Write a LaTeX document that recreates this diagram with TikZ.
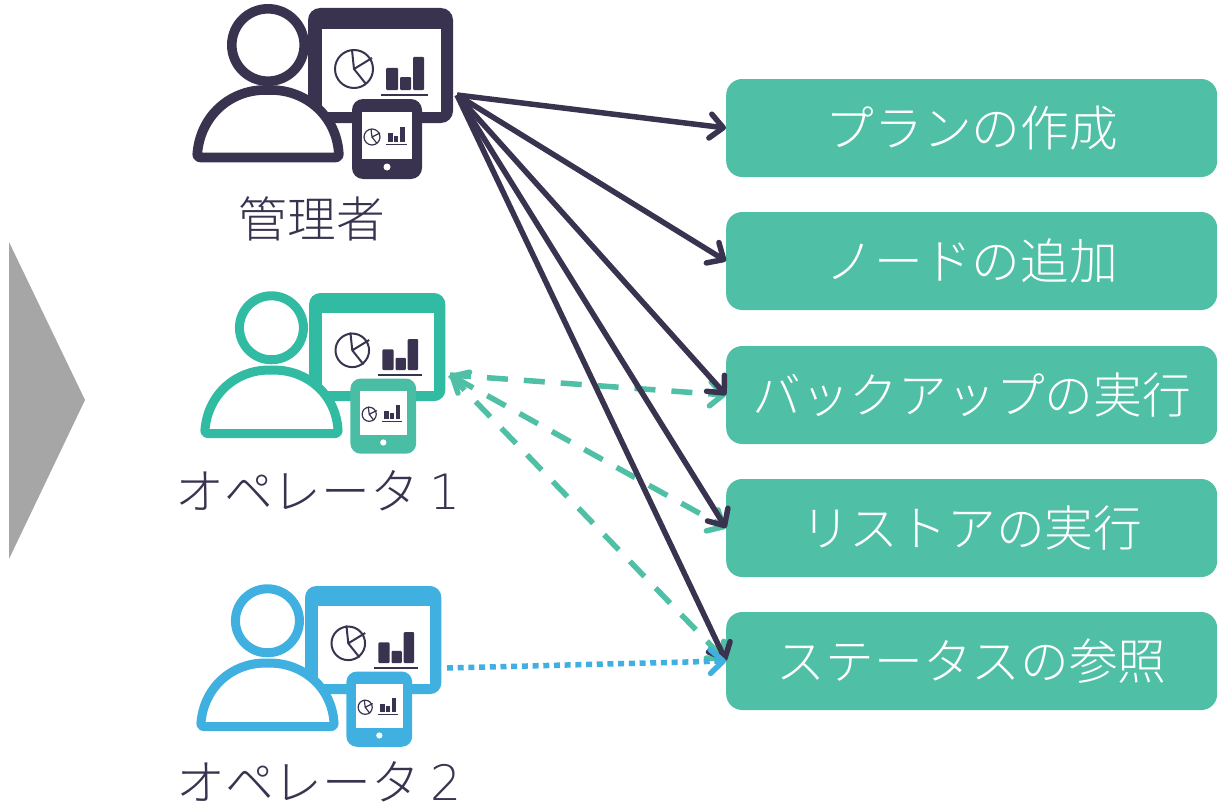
\documentclass[tikz,border=0pt]{standalone}
\usepackage{fontspec}
\usetikzlibrary{arrows.meta}
\setmainfont{Noto Sans CJK JP Light}
\newfontfamily\latinfont{DejaVu Sans ExtraLight}
\definecolor{ink}{HTML}{3A3350}
\definecolor{boxgreen}{HTML}{4FBFA5}
\definecolor{opgreen}{HTML}{30BBA2}
\definecolor{opblue}{HTML}{40B0E0}
\definecolor{chev}{HTML}{A6A6A6}
\tikzset{
  x=1pt,y=-1pt,
  action/.style={fill=boxgreen,rounded corners=16pt,minimum width=491pt,minimum height=98pt,inner sep=0pt,text=white,font=\fontsize{48.7}{50}\selectfont,anchor=west},
  who/.style={text=ink,font=\fontsize{48.7}{50}\selectfont,inner sep=0pt},
  conn/.style={line width=5.5pt,-{Straight Barb[length=13pt,width=24pt,round]}},
  adminline/.style={conn,draw=ink},
  op1line/.style={conn,draw=boxgreen,dash pattern=on 21pt off 16pt},
  op2line/.style={conn,draw=opblue,dash pattern=on 6pt off 4.7pt},
}
% #1 origin x, #2 origin y, #3 scale, #4 person/monitor colour, #5 tablet colour
\newcommand{\usericon}[5]{%
\begin{scope}[shift={(#1,#2)},x=#3pt,y=-#3pt]
  \fill[#4,rounded corners=#3*12pt] (116,0) rectangle (261,115);
  \fill[white] (130,21) rectangle (249,104);
  \draw[ink,line width=2pt] (162,61) circle (19*#3);
  \draw[ink,line width=2pt,line join=round] (160,42) -- (162,61) -- (180,50) (162,61) -- (174,76);
  \fill[ink,rounded corners=1pt] (194,82) rectangle (206,60);
  \fill[ink,rounded corners=1pt] (208,82) rectangle (219,69);
  \fill[ink,rounded corners=1pt] (221,82) rectangle (232,49);
  \draw[ink,line width=2pt] (189,87) -- (236,87);
  \draw[#4,line width=#3*9.6pt,fill=white] (76,37) circle (36.2*#3);
  \draw[#4,line width=#3*9.6pt,fill=white,line join=round,rounded corners=#3*3pt]
    (5,149.5) .. controls (8,108) and (38,82) .. (76,82) .. controls (114,82) and (145,108) .. (147,149.5) -- cycle;
  \fill[#5,rounded corners=#3*11pt] (160,91) rectangle (230,171);
  \fill[white] (170,104) rectangle (220,151);
  \fill[white] (195,159) circle (3.5*#3);
  \draw[ink,line width=1.2pt] (180,129) circle (8*#3);
  \draw[ink,line width=1.2pt] (179,121) -- (180,129) -- (188,125) (180,129) -- (185,135.5);
  \fill[ink] (196,134) rectangle (201,125);
  \fill[ink] (202,134) rectangle (206,128);
  \fill[ink] (208,134) rectangle (213,119);
  \draw[ink,line width=1.2pt] (194,136.5) -- (215,136.5);
\end{scope}}
\begin{document}
\begin{tikzpicture}
\useasboundingbox (0,0) rectangle (1220,808);
\fill[chev] (9,242) -- (85,400) -- (9,559) -- cycle;
\usericon{192}{8}{1}{ink}{ink}
\usericon{200}{293}{0.94}{opgreen}{boxgreen!85!opgreen}
\usericon{196}{586}{0.94}{opblue}{opblue}
\node[who] (adminlabel) at (312,219) {管理者};
\node[who] (op1label) at (318,491) {オペレータ {\latinfont 1}};
\node[who] (op2label) at (319,782) {オペレータ {\latinfont 2}};
\node[action] (plan) at (726,128) {プランの作成};
\node[action] (node) at (726,261) {ノードの追加};
\node[action] (backup) at (726,395) {バックアップの実行};
\node[action] (restore) at (726,528) {リストアの実行};
\node[action] (status) at (726,661) {ステータスの参照};
\coordinate (admin) at (457,95);
\coordinate (opa) at (450,375);
\coordinate (opb) at (447,668);
\draw[op1line] (opa) -- (backup.west);
\draw[op1line,{Straight Barb[length=13pt,width=24pt,round]}-{Straight Barb[length=13pt,width=24pt,round]}] (opa) -- (restore.west);
\draw[op1line] (opa) -- (status.west);
\draw[adminline] (admin) -- (plan.west);
\draw[adminline] (admin) -- (node.west);
\draw[adminline] (admin) -- (backup.west);
\draw[adminline] (admin) -- (restore.west);
\draw[adminline] (admin) -- (status.west);
\draw[op2line] (opb) -- (status.west);
\end{tikzpicture}
\end{document}
